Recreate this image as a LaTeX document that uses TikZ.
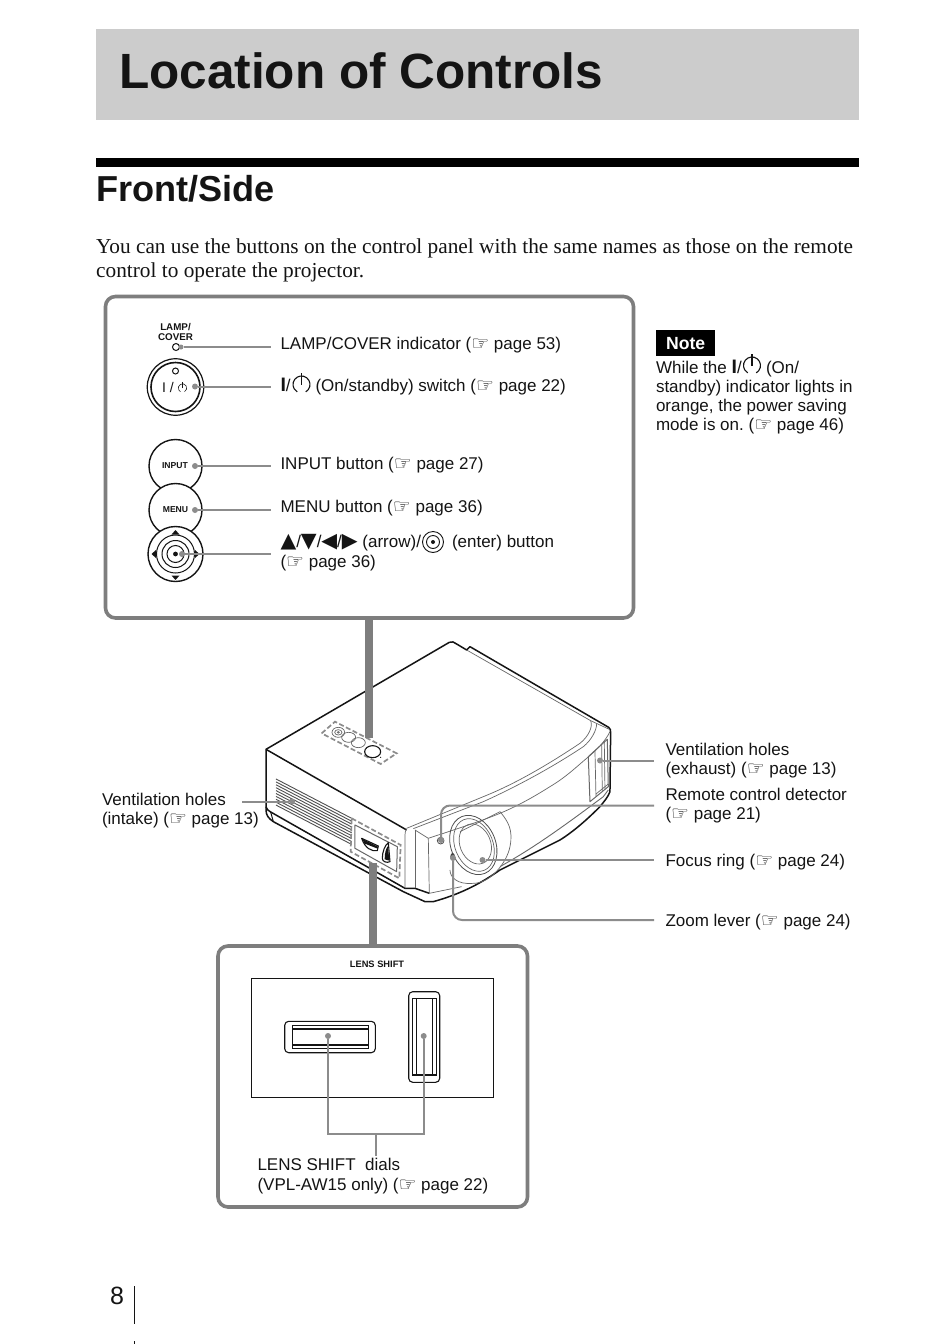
\documentclass[tikz,border=0pt]{standalone}
\usepackage{fontspec}
\setmainfont{Liberation Sans}
\newfontfamily\serifbody{Liberation Serif}
\newfontfamily\symb{DejaVu Sans}
\newcommand\hnd{{\symb\fontsize{20}{15}\selectfont\raisebox{-1pt}{☞}}}
\newcommand\gly[1]{{\symb\fontsize{20.5}{16}\selectfont #1}}
\newcommand\barI{{\fontsize{19.5}{16}\selectfont\bfseries I}}
\frenchspacing
\usetikzlibrary{calc}
\definecolor{ink}{gray}{0.08}
\definecolor{lead}{gray}{0.55}
\tikzset{
 lbl/.style={anchor=base west,inner sep=0pt,outer sep=0pt,font=\fontsize{17}{20}\selectfont,text=ink},
 tiny/.style={inner sep=0pt,outer sep=0pt,font=\fontsize{9.3}{10}\selectfont\bfseries,text=ink},
 panel/.style={draw=lead!90!black,line width=3.6pt,rounded corners=10pt,fill=white},
 lead line/.style={draw=lead,line width=2pt,rounded corners=9pt},
 dotn/.style={circle,fill=lead,inner sep=0pt,minimum size=6pt},
 thick bar/.style={draw=lead!90!black,line width=8pt},
 btn/.style={draw=ink,line width=1.4pt,fill=white},
 pj/.style={draw=ink,line width=1.5pt,line join=round},
 pjt/.style={draw=ink!65,line width=.7pt,line join=round},
 dashbox/.style={draw=lead,line width=1.7pt,dash pattern=on 5pt off 2.5pt},
}
\newcommand\powersym[3]{% centre x, y, radius
 \draw[ink,line width=#3*0.13pt] ($(#1,#2)+(60:#3)$) arc (60:-240:#3);
 \draw[ink,line width=#3*0.16pt] (#1,#2) -- ++(0,-#3*1.4);
}
\begin{document}
\begin{tikzpicture}[x=1pt,y=-1pt]
\useasboundingbox (0,0) rectangle (950,1344);
\fill[white] (0,0) rectangle (950,1344);
% header
\fill[black!20] (96,29) rectangle (859,120);
\node[anchor=base west,inner sep=0pt,font=\fontsize{49.5}{56}\selectfont\bfseries,text=ink] (title) at (119,88) {Location of Controls};
\fill[black] (96,158) rectangle (859,167);
\node[anchor=base west,inner sep=0pt,font=\fontsize{36.1}{40}\selectfont\bfseries,text=ink] (front) at (96,201) {Front/Side};
\node[anchor=base west,inner sep=0pt,font=\serifbody\fontsize{21.3}{24}\selectfont,text=ink] (intro1) at (96,253) {You can use the buttons on the control panel with the same names as those on the remote};
\node[anchor=base west,inner sep=0pt,font=\serifbody\fontsize{21.3}{24}\selectfont,text=ink] (intro2) at (96,277.5) {control to operate the projector.};
% connecting bars
\coordinate (barA1) at (368.5,618); \coordinate (barA2) at (368.5,738);
\coordinate (barB1) at (373,863); \coordinate (barB2) at (373,946);
% projector
\begin{scope}[shift={(250,630)},x=.3333pt,y=-.3333pt]
 % body silhouette
 \path[pj,fill=white] (48,358) -- (598,37) .. controls (606,33) and (612,36) .. (620,42) -- (650,60) -- (660,50) -- (1076,292) .. controls (1082,296) and (1082,300) .. (1082,310) -- (1080,485) .. controls (1075,500) and (1062,515) .. (1050,530) .. controls (1010,570) and (970,605) .. (930,630) -- (750,720) .. controls (700,755) and (640,790) .. (550,815) -- (525,815) -- (460,785) -- (70,575) .. controls (55,565) and (48,555) .. (48,540) -- cycle;
 \draw[pj] (48,358) -- (470,600);
 \draw[pj] (48,530) .. controls (52,540) and (56,543) .. (62,546) -- (465,775) -- (495,775) -- (538,790);
 \draw[pj,line width=1pt] (70,575) -- (62,546);
 % lid and front top
 \draw[pjt] (650,60) -- (1022,272) .. controls (1030,290) and (1015,320) .. (990,340) .. controls (900,400) and (800,460) .. (700,500) -- (470,595);
 \draw[pjt] (1040,282) .. controls (1040,300) and (1025,330) .. (1000,350) .. controls (910,410) and (800,470) .. (700,515) -- (490,596);
 \draw[pjt] (1022,272) -- (1078,298);
 \draw[pjt] (495,600) -- (535,625) .. controls (610,600) and (690,575) .. (750,550) .. controls (810,525) and (860,495) .. (900,470) .. controls (950,440) and (980,410) .. (1010,385) .. controls (1040,360) and (1065,335) .. (1080,305);
 % front panel
 \draw[pjt] (470,596) .. controls (467,600) and (465,606) .. (465,615) -- (465,775);
 \draw[pjt] (495,600) -- (495,775);
 \draw[pjt] (535,625) -- (538,790) -- (635,770);
 % lower second line
 \draw[pjt,line width=.9pt] (750,710) .. controls (830,665) and (900,620) .. (1060,500) -- (1075,480);
 % lens housing
 \draw[pjt] (630,605) -- (750,545) .. controls (775,575) and (790,600) .. (780,650) .. controls (770,700) and (720,760) .. (670,760) .. controls (620,765) and (600,740) .. (600,720);
 \draw[draw=ink!75,line width=.8pt,rotate around={22:(670,645)}] (670,645) ellipse (67 and 92);
 \draw[pjt,rotate around={22:(672,645)}] (672,645) ellipse (57 and 82);
 \draw[pjt,rotate around={22:(676,642)}] (676,642) ellipse (46 and 62);
 \draw[draw=ink!75,line width=.8pt] (572,632) circle (10);
 \fill[ink!80] (608,680) ellipse (7 and 11);
 % exhaust
 \draw[pjt,line width=1pt] (1015,380) -- (1072,328) -- (1075,470) -- (1020,515) -- cycle;
 \draw[pjt] (1035,362) -- (1038,498);
 \draw[pjt] (1055,344) -- (1057,484);
 \draw[pjt] (1063,336) -- (1065,478);
 \draw[pjt] (1038,492) -- (1075,462);
 % intake grille
 \foreach \t in {0,1,...,9} {
  \draw[draw=ink!75,line width=.9pt] (78,{447+8.7*\t}) -- (305,{565+8.7*\t});
 }
 % top control area
 \draw[dashbox] (215,310) -- (255,275) -- (440,370) -- (392,402) -- cycle;
 \draw[pjt] (265,307) ellipse (19 and 15);
 \draw[pjt] (265,307) ellipse (11 and 8);
 \fill[ink!60] (265,307) ellipse (5 and 4);
 \draw[pjt] (296,322) ellipse (21 and 15);
 \draw[pjt] (325,338) ellipse (21 and 15);
 \draw[pj,line width=1.1pt] (368,365) ellipse (24 and 18);
 \fill[ink] (392,382) circle (2);
 % lens shift area
 \draw[dashbox] (305,565) -- (452,645) -- (448,745) -- (302,665) -- cycle;
 \draw[pjt,line width=1pt] (315,585) -- (442,650) -- (440,725) -- (315,655) -- cycle;
 \path[pj,line width=1.1pt,fill=white] (335,625) -- (385,648) -- (382,662) .. controls (365,665) and (345,655) .. cycle;
 \fill[ink] (338,627) -- (384,650) -- (383,656) -- (342,640) -- cycle;
 \path[pj,line width=1.1pt,fill=white] (397,685) .. controls (397,665) and (405,645) .. (415,638) -- (420,695) .. controls (410,700) and (397,695) .. cycle;
 \fill[ink] (404,688) .. controls (404,668) and (408,655) .. (414,648) -- (418,692) -- cycle;
\end{scope}
\path[thick bar] (barA1) -- (barA2);
\path[thick bar] (barB1) -- (barB2);
% top panel
\draw[panel] (105.5,296.5) rectangle (633.5,618);
\node[tiny,align=center,font=\fontsize{9.8}{10.2}\selectfont\bfseries] (lampcap) at (175.5,332) {LAMP/\\COVER};
\node[draw=ink,line width=1pt,circle,inner sep=0pt,minimum size=7pt] (led) at (176,347) {};
% power button
\node[btn,circle,inner sep=0pt,minimum size=56.5pt,line width=1.2pt] (pwrO) at (175.5,387) {};
\node[btn,circle,inner sep=0pt,minimum size=49pt,line width=1.6pt] (pwrI) at (175.5,387) {};
\node[draw=ink,line width=1pt,circle,inner sep=0pt,minimum size=6pt] (pwrL) at (175.5,371) {};
\node[inner sep=0pt,font=\fontsize{14}{14}\selectfont,text=ink] (pwrT) at (168,387) {I /};
\powersym{182.5}{388}{4.2}
\node[btn,circle,inner sep=0pt,minimum size=53pt] (input) at (175.5,466) {};
\node[tiny,font=\fontsize{8.6}{10}\selectfont\bfseries] (inputT) at (175,466) {INPUT};
\node[btn,circle,inner sep=0pt,minimum size=53pt] (menu) at (175.5,510) {};
\node[tiny,font=\fontsize{8.6}{10}\selectfont\bfseries] (menuT) at (175.5,510) {MENU};
\node[btn,circle,inner sep=0pt,minimum size=55pt] (nav) at (175.5,554) {};
\draw[ink,line width=1pt] (175.5,554) circle (19);
\draw[ink,line width=1pt] (175.5,554) circle (13.5);
\draw[ink,line width=1pt] (175.5,554) circle (8.5);
\fill[ink] (175.5,554) circle (2.4);
\fill[ink] (175.5,530) -- (171.5,534.5) -- (179.5,534.5) -- cycle;
\fill[ink] (175.5,580) -- (171.5,575.5) -- (179.5,575.5) -- cycle;
\fill[ink] (151.5,554) -- (156,550) -- (156,558) -- cycle;
\fill[ink] (199.5,554) -- (195,550) -- (195,558) -- cycle;
% labels top panel
\node[lbl] (lLamp) at (280.5,349) {LAMP/COVER indicator (\hnd{} page 53)};
\node[lbl] (lPwrI) at (280.5,391) {\barI/};
\powersym{301.5}{384.5}{8.5}
\node[lbl] (lPwr) at (315.5,391) {(On/standby) switch (\hnd{} page 22)};
\node[lbl] (lInput) at (280.5,469) {INPUT button (\hnd{} page 27)};
\node[lbl] (lMenu) at (280.5,512) {MENU button (\hnd{} page 36)};
\node[lbl] (lArr) at (280.5,547.5) {\gly{▲}/\gly{▼}/\gly{◀}/\gly{▶} (arrow)/};
\draw[ink,line width=.9pt] (433,542) circle (10.5);
\draw[ink,line width=.9pt] (433,542) circle (6.5);
\fill[ink] (433,542) circle (2);
\node[lbl] (lEnter) at (452,547.5) {(enter) button};
\node[lbl] (lArr2) at (280.5,567.5) {(\hnd{} page 36)};
% leaders top panel
\node[dotn,minimum size=5pt] (dLamp) at (181,347) {}; \coordinate (eLamp) at (271,347);
\node[dotn] (dPwr) at (195,386.5) {}; \coordinate (ePwr) at (271,386.5);
\node[dotn] (dInput) at (195,466) {}; \coordinate (eInput) at (271,466);
\node[dotn] (dMenu) at (195,510) {}; \coordinate (eMenu) at (271,510);
\node[dotn] (dNav) at (182,554) {}; \coordinate (eNav) at (271,554);
\path[lead line] (dLamp) -- (eLamp);
\path[lead line] (dPwr) -- (ePwr);
\path[lead line] (dInput) -- (eInput);
\path[lead line] (dMenu) -- (eMenu);
\path[lead line] (dNav) -- (eNav);
% note
\node[fill=black,anchor=north west,minimum width=59pt,minimum height=26pt,inner sep=0pt,text=white,font=\fontsize{17.6}{20}\selectfont\bfseries] (note) at (656,330) {Note};
\node[lbl] (n1) at (656,373) {While the \barI/};
\powersym{752}{365.5}{8.5}
\node[lbl] (n1b) at (766,373) {(On/};
\node[lbl] (n2) at (656,392) {standby) indicator lights in};
\node[lbl] (n3) at (656,411) {orange, the power saving};
\node[lbl] (n4) at (656,430) {mode is on. (\hnd{} page 46)};
% projector callouts
\node[lbl] (vi1) at (102,805) {Ventilation holes};
\node[lbl] (vi2) at (102,824) {(intake) (\hnd{} page 13)};
\node[lbl] (ve1) at (665.5,755) {Ventilation holes};
\node[lbl] (ve2) at (665.5,774) {(exhaust) (\hnd{} page 13)};
\node[lbl] (rc1) at (665.5,800) {Remote control detector};
\node[lbl] (rc2) at (665.5,819) {(\hnd{} page 21)};
\node[lbl] (fr) at (665.5,866) {Focus ring (\hnd{} page 24)};
\node[lbl] (zl) at (665.5,926) {Zoom lever (\hnd{} page 24)};
\node[dotn] (dVi) at (292,801.5) {}; \coordinate (eVi) at (242,801.5);
\node[dotn] (dVe) at (600,760.5) {}; \coordinate (eVe) at (654,760.5);
\node[dotn] (dRc) at (441,840) {}; \coordinate (eRc) at (654,805.5);
\node[dotn] (dFr) at (482.5,860) {}; \coordinate (eFr) at (654,860);
\node[dotn] (dZl) at (453,858) {}; \coordinate (eZl) at (654,920);
\path[lead line] (dVi) -- (eVi);
\path[lead line] (dVe) -- (eVe);
\path[lead line] (dRc) |- (eRc);
\path[lead line] (dFr) -- (eFr);
\path[lead line] (dZl) |- (eZl);
% bottom panel
\draw[panel] (218,946) rectangle (527.5,1207);
\node[tiny] (lsT) at (377,964) {LENS SHIFT};
\node[draw=ink,line width=1pt,minimum width=241.5pt,minimum height=119.5pt,inner sep=0pt,anchor=north west] (lsBox) at (251.3,977.7) {};
\draw[ink,line width=1.1pt,rounded corners=4pt] (284.7,1021.3) rectangle (375.3,1052.7);
\draw[ink,line width=1.2pt] (292.3,1025.7) rectangle (368.7,1048.7);
\draw[ink,line width=1.4pt] (292.3,1029) -- (368.7,1029);
\draw[ink,line width=1.2pt] (292.3,1045) -- (368.7,1045);
\draw[ink,line width=1.1pt,rounded corners=4pt] (408.7,991.7) rectangle (439.7,1082.3);
\draw[ink,line width=1.2pt] (412.7,998.7) rectangle (436.7,1075);
\draw[ink,line width=1.2pt] (416.5,998.7) -- (416.5,1075);
\draw[ink,line width=1.2pt] (432.5,998.7) -- (432.5,1075);
\node[dotn] (dL) at (328,1036) {};
\node[dotn] (dR) at (423.7,1036) {};
\coordinate (jL) at (328,1133.5); \coordinate (jR) at (423.7,1133.5);
\coordinate (jM) at (375.5,1133.5); \coordinate (jE) at (375.5,1156);
\draw[draw=lead,line width=2pt,line join=miter] (dL) -- (jL) -- (jR) -- (dR);
\draw[draw=lead,line width=2pt] (jM) -- (jE);
\node[lbl] (ls1) at (257.5,1170) {LENS SHIFT\ \ dials};
\node[lbl] (ls2) at (257.5,1190) {(VPL-AW15 only) (\hnd{} page 22)};
% footer
\node[anchor=base west,inner sep=0pt,font=\fontsize{25}{26}\selectfont,text=ink] (pg) at (110,1304) {8};
\coordinate (fa) at (134.5,1286); \coordinate (fb) at (134.5,1324);
\draw[ink,line width=1pt] (fa) -- (fb);
\coordinate (fc) at (134.5,1341); \coordinate (fd) at (134.5,1344);
\draw[ink,line width=.8pt] (fc) -- (fd);
\end{tikzpicture}
\end{document}
